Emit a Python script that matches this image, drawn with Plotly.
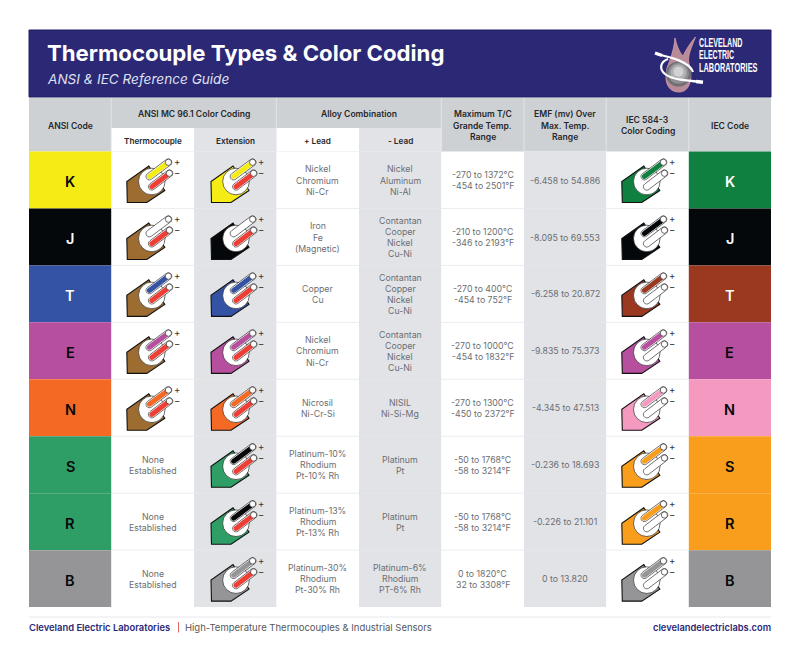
"""Thermocouple types & colour coding reference card"""
import math

import plotly.graph_objects as go

# --- data -------------------------------------------------------------
ANSI_CODES = ["K", "J", "T", "E", "N", "S", "R", "B"]
IEC_CODES = ["K", "J", "T", "E", "N", "S", "R", "B"]

ANSI_TILE = ["yellow", "black", "blue", "purple", "orange", "green", "green", "gray"]
ANSI_LABEL = ["black", "white", "white", "black", "black", "black", "black", "black"]
IEC_TILE = ["iec_green", "black", "brown_red", "purple", "pink", "amber", "amber", "gray"]
IEC_LABEL = ["white", "white", "white", "black", "black", "black", "black", "black"]

THERMO_PLUS = ["yellow", "white", "blue", "purple", "orange", None, None, None]
EXT_BODY = ["yellow", "black", "blue", "purple", "orange", "green", "green", "gray"]
EXT_PLUS = ["yellow", "white", "blue", "purple", "orange", "black", "black", "gray"]

PLUS_LEAD = [
    ["Nickel", "Chromium", "Ni-Cr"],
    ["Iron", "Fe", "(Magnetic)"],
    ["Copper", "Cu"],
    ["Nickel", "Chromium", "Ni-Cr"],
    ["Nicrosil", "Ni-Cr-Si"],
    ["Platinum-10%", "Rhodium", "Pt-10% Rh"],
    ["Platinum-13%", "Rhodium", "Pt-13% Rh"],
    ["Platinum-30%", "Rhodium", "Pt-30% Rh"],
]
MINUS_LEAD = [
    ["Nickel", "Aluminum", "Ni-Al"],
    ["Contantan", "Cooper", "Nickel", "Cu-Ni"],
    ["Contantan", "Copper", "Nickel", "Cu-Ni"],
    ["Contantan", "Cooper", "Nickel", "Cu-Ni"],
    ["NISIL", "Ni-Si-Mg"],
    ["Platinum", "Pt"],
    ["Platinum", "Pt"],
    ["Platinum-6%", "Rhodium", "PT-6% Rh"],
]
TEMP_RANGE = [
    ["-270 to 1372°C", "-454 to 2501°F"],
    ["-210 to 1200°C", "-346 to 2193°F"],
    ["-270 to 400°C", "-454 to 752°F"],
    ["-270 to 1000°C", "-454 to 1832°F"],
    ["-270 to 1300°C", "-450 to 2372°F"],
    ["-50 to 1768°C", "-58 to 3214°F"],
    ["-50 to 1768°C", "-58 to 3214°F"],
    ["0 to 1820°C", "32 to 3308°F"],
]
EMF_RANGE = [
    "-6.458 to 54.886", "-8.095 to 69.553", "-6.258 to 20.872", "-9.835 to 75.373",
    "-4.345 to 47.513", "-0.236 to 18.693", "-0.226 to 21.101", "0 to 13.820",
]

LOGO_WORDS = ["CLEVELAND", "ELECTRIC", "LABORATORIES"]

# --- colours ----------------------------------------------------------
PALETTE = {
    "yellow": "#f6ec15", "black": "#05080a", "blue": "#3553a5", "purple": "#b64f9d",
    "orange": "#f46a25", "green": "#2f9e66", "gray": "#959597", "iec_green": "#0f8040",
    "brown_red": "#9b3820", "pink": "#f49ac1", "amber": "#f99d1c", "white": "#ffffff",
    "red": "#ee3e36", "brown": "#9c6c31",
}
NAVY = "#2b2875"
HEAD_GRAY = "#ced1d4"
COL_GRAY = "#e2e3e7"
RULE = "#e6e7ea"
TEXT = "#6b6e72"
HEAD_TEXT = "#26282c"
OUTLINE = "#111111"
FONT = "Inter, sans-serif"

# --- layout -----------------------------------------------------------
COL = [29, 111.2, 194, 276.3, 359, 441.2, 524, 606.2, 688.8, 771]
ROW_TOP = 151.5
ROW_H = 56.95
ROW_COUNT = len(ANSI_CODES)
TABLE_BOTTOM = ROW_TOP + ROW_H * ROW_COUNT

shapes = []
annotations = []


def rect(x0, y0, x1, y1, fill, line=None, width=0):
    shapes.append(dict(type="rect", x0=x0, y0=y0, x1=x1, y1=y1, fillcolor=fill,
                       line=dict(color=line or fill, width=width)))


def seg(x0, y0, x1, y1, color, width=1):
    shapes.append(dict(type="line", x0=x0, y0=y0, x1=x1, y1=y1, line=dict(color=color, width=width)))


def path(d, fill=None, line=None, width=0):
    shapes.append(dict(type="path", path=d, fillcolor=fill or "rgba(0,0,0,0)",
                       line=dict(color=line or "rgba(0,0,0,0)", width=width)))


def circle(cx, cy, r, fill, line=None, width=0):
    shapes.append(dict(type="circle", x0=cx - r, y0=cy - r, x1=cx + r, y1=cy + r, fillcolor=fill,
                       line=dict(color=line or fill, width=width)))


def text(x, y, s, size=8.75, color=TEXT, weight=400, italic=False, anchor="center", family=FONT):
    # annotations carry ~2px of padding, take it back so edges line up
    shift = {"left": -2, "right": 2}.get(anchor, 0)
    annotations.append(dict(
        x=x + shift, y=y, text=s, showarrow=False, xanchor=anchor, yanchor="middle", align=anchor,
        font=dict(size=size, color=color, family=family, weight=weight, style="italic" if italic else "normal"),
    ))


def stacked(x, yc, lines, size=8.75, color=TEXT, weight=400, leading=11.15):
    top = yc + 0.6 - leading * (len(lines) - 1) / 2
    for i, s in enumerate(lines):
        text(x, top + i * leading, s, size=size, color=color, weight=weight)


def capsule(x0, y0, x1, y1, r, fill, line=None, width=0):
    a = math.atan2(y1 - y0, x1 - x0)
    pts = []
    for k in range(13):
        t = a - math.pi / 2 + math.pi * k / 12
        pts.append((x1 + r * math.cos(t), y1 + r * math.sin(t)))
    for k in range(13):
        t = a + math.pi / 2 + math.pi * k / 12
        pts.append((x0 + r * math.cos(t), y0 + r * math.sin(t)))
    path("M " + " L ".join(f"{px:.2f} {py:.2f}" for px, py in pts) + " Z", fill, line, width)


def wire(x0, y0, x1, y1, color):
    capsule(x0, y0, x1, y1, 3.4, "#ffffff", OUTLINE, 0.6)
    if color != "#ffffff":
        capsule(x0, y0, x1 - 2.5, y1 + 1.9, 2.5, color)
    circle(x1, y1, 3.1, "#ffffff", OUTLINE, 0.6)


def connector(left, top, body, plus, minus):
    ox = lambda v: left + v
    oy = lambda v: top + v
    path(f"M {ox(0)} {oy(30)} L {ox(0.5)} {oy(51)} L {ox(20)} {oy(51)} L {ox(38)} {oy(39)} "
         f"L {ox(22)} {oy(14.5)} Z", body, OUTLINE, 1.1)
    circle(ox(25), oy(30), 13.3, "#ffffff", OUTLINE, 0.6)
    wire(ox(22.6), oy(25), ox(41.6), oy(10.8), plus)
    wire(ox(25), oy(35.2), ox(42.6), oy(21.8), minus)
    text(ox(50), oy(10.2), "+", size=9.5, color="#333333")
    text(ox(50.3), oy(21.2), "−", size=9.5, color="#333333")


# banner
rect(COL[0], 30, COL[-1], 97, NAVY, "#1f1c66", 1)
text(47, 52, "Thermocouple Types &amp; Color Coding", size=22.2, color="#ffffff", weight=700, anchor="left")
text(47, 78.5, "ANSI &amp; IEC Reference Guide", size=13.6, color="#dfe0f0", italic=True, anchor="left")

# logo
path("M 679 92 C 667 92 664 80 667 68 C 670 60 674 50 675 38 C 677 47 680 53 683 56 "
     "C 686 50 690 43 695.5 37 C 692 46 687 56 689 64 C 693 76 691 92 679 92 Z", "#b98a98", "#d9a0a8", 0.8)
for r_, c_ in zip([12.6, 10.5, 8, 5], ["#6f6f74", "#8f8f93", "#b0b0b4", "#d2d2d5"]):
    circle(678.5, 74 - (12.6 - r_) * 0.3, r_, c_)
path("M 657 54 C 670 57 690 62 693 72", None, "#ffffff", 2.2)
path("M 668 59 C 660 62 659 69 665 74 C 672 80 690 81 703 82", None, "#ffffff", 2.2)
seg(655, 53, 662, 55.5, "#ffffff", 3.4)
seg(696, 81.5, 703, 82.2, "#ffffff", 3.4)
for i, s in enumerate(LOGO_WORDS):
    text(698.5, 42.5 + i * 12.5, s, size=12.5, color="#ffffff", weight=700, anchor="left",
         family="Liberation Sans, sans-serif")

# header band
rect(COL[0], 98, COL[-1], ROW_TOP, HEAD_GRAY)
rect(COL[1], 128, COL[5], ROW_TOP, "#ffffff")
rect(COL[2], 128, COL[3], ROW_TOP, COL_GRAY)
rect(COL[4], 128, COL[5], ROW_TOP, COL_GRAY)
for c in [COL[1], COL[3], COL[5], COL[6], COL[7], COL[8]]:
    seg(c, 98, c, ROW_TOP, "#e9eaec", 0.8)

# body columns
for c in [2, 4, 6]:
    rect(COL[c], ROW_TOP, COL[c + 1], TABLE_BOTTOM, COL_GRAY)
for i in range(1, ROW_COUNT):
    y = ROW_TOP + i * ROW_H
    seg(COL[1], y, COL[8], y, RULE, 0.8)

HEAD = dict(size=8.6, color=HEAD_TEXT, weight=600)
stacked((COL[0] + COL[1]) / 2, 125, ["ANSI Code"], **HEAD)
text((COL[1] + COL[3]) / 2, 113.5, "ANSI MC 96.1 Color Coding", **HEAD)
text((COL[3] + COL[5]) / 2, 113.5, "Alloy Combination", **HEAD)
sub_heads = ["Thermocouple", "Extension", "+ Lead", "- Lead"]
for c, s in enumerate(sub_heads):
    text((COL[c + 1] + COL[c + 2]) / 2, 140.5, s, size=8.2, color=HEAD_TEXT, weight=600)
stacked((COL[5] + COL[6]) / 2, 125, ["Maximum T/C", "Grande Temp.", "Range"], **HEAD)
stacked((COL[6] + COL[7]) / 2, 125, ["EMF (mv) Over", "Max. Temp.", "Range"], **HEAD)
stacked((COL[7] + COL[8]) / 2, 125, ["IEC 584-3", "Color Coding"], **HEAD)
stacked((COL[8] + COL[9]) / 2, 125, ["IEC Code"], **HEAD)

# rows
for i in range(ROW_COUNT):
    top = ROW_TOP + i * ROW_H
    mid = top + ROW_H / 2
    rect(COL[0], top, COL[1], top + ROW_H, PALETTE[ANSI_TILE[i]])
    rect(COL[8], top, COL[9], top + ROW_H, PALETTE[IEC_TILE[i]])
    text((COL[0] + COL[1]) / 2, mid + 1.5, ANSI_CODES[i], size=14.5, color=PALETTE[ANSI_LABEL[i]], weight=600)
    text((COL[8] + COL[9]) / 2, mid + 1.5, IEC_CODES[i], size=14.5, color=PALETTE[IEC_LABEL[i]], weight=600)

    if THERMO_PLUS[i]:
        connector(COL[1] + 15.6, top, PALETTE["brown"], PALETTE[THERMO_PLUS[i]], PALETTE["red"])
    else:
        stacked((COL[1] + COL[2]) / 2, mid, ["None", "Established"])
    connector(COL[2] + 17, top, PALETTE[EXT_BODY[i]], PALETTE[EXT_PLUS[i]], PALETTE["red"])
    connector(COL[7] + 15.6, top, PALETTE[IEC_TILE[i]], PALETTE[IEC_TILE[i]], PALETTE["white"])

    stacked((COL[3] + COL[4]) / 2, mid, PLUS_LEAD[i])
    stacked((COL[4] + COL[5]) / 2, mid, MINUS_LEAD[i])
    stacked((COL[5] + COL[6]) / 2, mid, TEMP_RANGE[i])
    stacked((COL[6] + COL[7]) / 2, mid, [EMF_RANGE[i]])

# footer
seg(COL[0], 617, COL[-1], 617, "#e8e9eb", 1)
text(COL[0], 627.5, "Cleveland Electric Laboratories", size=9.4, color=NAVY, weight=600, anchor="left")
seg(178.5, 622, 178.5, 632.5, "#e0656a", 1)
text(185, 627.5, "High-Temperature Thermocouples &amp; Industrial Sensors", size=9.5, color="#55585c", anchor="left")
text(COL[-1], 627.5, "clevelandelectriclabs.com", size=9.3, color=NAVY, weight=600, anchor="right")

fig = go.Figure()
fig.update_layout(
    width=800,
    height=649,
    margin=dict(l=0, r=0, t=0, b=0),
    plot_bgcolor="#ffffff",
    paper_bgcolor="#ffffff",
    showlegend=False,
    xaxis=dict(range=[0, 800], visible=False, fixedrange=True),
    yaxis=dict(range=[649, 0], visible=False, fixedrange=True),
    shapes=shapes,
    annotations=annotations,
)

# logo lettering is condensed in the original and no narrow font is installed, so squeeze it
squeeze = """
document.body.style.margin='0';document.body.style.overflow='hidden';
var widths={CLEVELAND:43.5,ELECTRIC:35,LABORATORIES:58.5};
document.querySelectorAll('.annotation-text').forEach(function(t){
  var w=widths[t.textContent];
  if(w){t.setAttribute('textLength',w);t.setAttribute('lengthAdjust','spacingAndGlyphs');}
});
"""
fig.write_html("out.html", config=dict(displayModeBar=False), post_script=squeeze)
